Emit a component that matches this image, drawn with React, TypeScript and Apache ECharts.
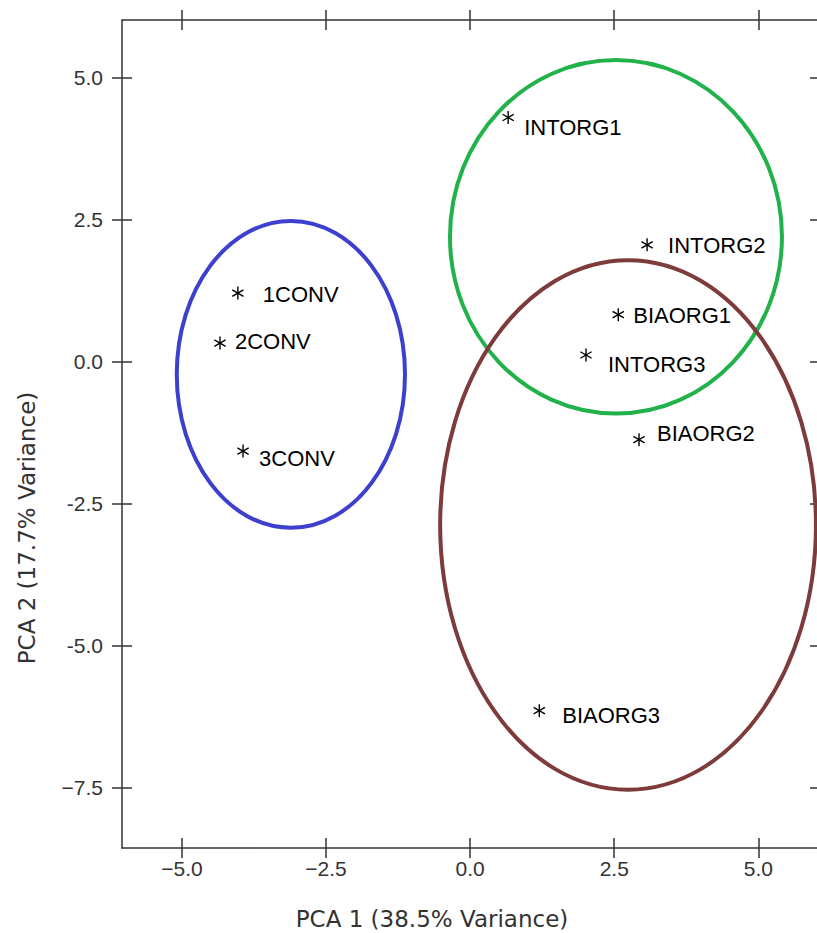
import React, { useEffect, useRef } from "react";
import * as echarts from "echarts";

// Sample scores
const sampleNames = ["1CONV", "2CONV", "3CONV", "INTORG1", "INTORG2", "BIAORG1", "INTORG3", "BIAORG2", "BIAORG3"];
const pc1Values = [-4.03, -4.34, -3.94, 0.66, 3.07, 2.57, 2.01, 2.93, 1.2];
const pc2Values = [1.21, 0.33, -1.57, 4.3, 2.06, 0.83, 0.12, -1.37, -6.14];

// Group ellipses (centre and radii in data units)
const groupNames = ["CONV", "INTORG", "BIAORG"];
const ellipseCx = [-3.11, 2.53, 2.74];
const ellipseCy = [-0.22, 2.2, -2.87];
const ellipseRx = [1.98, 2.88, 3.26];
const ellipseRy = [2.7, 3.11, 4.66];

// Tick labels
const xTickValues = [-5, -2.5, 0, 2.5, 5];
const xTickLabels = ["\u22125.0", "\u22122.5", "0.0", "2.5", "5.0"];
const yTickValues = [-7.5, -5, -2.5, 0, 2.5, 5];
const yTickLabels = ["\u22127.5", "-5.0", "-2.5", "0.0", "2.5", "5.0"];

const xTitle = "PCA 1 (38.5% Variance)";
const yTitle = "PCA 2 (17.7% Variance)";

// styling only
const ellipseColors = ["#3d40cc", "#22b24b", "#7d3b3b"];
const labelOffsets: [number, number][] = [
  [25, 1], [15, -2], [16, 7], [16, 10], [21, 1], [15, 1], [22, 9], [18, -6], [23, 5],
];

const X_MIN = -6.04;
const X_MAX = 6.07;
const Y_MIN = -8.556;
const Y_MAX = 6.016;

function fmt(values: number[], labels: string[]) {
  return (v: number) => {
    const i = values.findIndex((t) => Math.abs(t - v) < 1e-6);
    return i >= 0 ? labels[i] : "";
  };
}

export default function App() {
  const ref = useRef<HTMLDivElement>(null);
  useEffect(() => {
    if (!ref.current) return;
    const chart = echarts.init(ref.current, null, { renderer: "svg" });
    const lineStyle = { color: "#333", width: 1.5 };
    const tickFont = { fontFamily: "Liberation Sans", fontSize: 21, color: "#333" };

    const mkX = (position: string, inside: boolean, labels: boolean, line: boolean) => ({
      type: "value",
      position,
      min: X_MIN,
      max: X_MAX,
      splitLine: { show: false },
      axisLine: { show: line, onZero: false, lineStyle },
      axisTick: { show: true, inside, length: 10, lineStyle, customValues: xTickValues },
      axisLabel: {
        show: labels,
        customValues: xTickValues,
        formatter: fmt(xTickValues, xTickLabels),
        margin: 10,
        ...tickFont,
      },
    });
    const mkY = (position: string, inside: boolean, labels: boolean, line: boolean) => ({
      type: "value",
      position,
      min: Y_MIN,
      max: Y_MAX,
      splitLine: { show: false },
      axisLine: { show: line, onZero: false, lineStyle },
      axisTick: { show: true, inside, length: 10, lineStyle, customValues: yTickValues },
      axisLabel: {
        show: labels,
        customValues: yTickValues,
        formatter: fmt(yTickValues, yTickLabels),
        margin: 19,
        ...tickFont,
      },
    });

    const ellipseData = groupNames.map((g, i) => ({
      name: g,
      value: [ellipseCx[i], ellipseCy[i], ellipseRx[i], ellipseRy[i]],
    }));
    const pointData = sampleNames.map((n, i) => ({ name: n, value: [pc1Values[i], pc2Values[i]] }));

    chart.setOption({
      animation: false,
      backgroundColor: "#ffffff",
      grid: { left: 122, top: 20, width: 698, height: 828, containLabel: false, outerBoundsMode: "none" },
      xAxis: [
        mkX("bottom", false, true, true),
        mkX("bottom", true, false, false),
        mkX("top", false, false, true),
        mkX("top", true, false, false),
      ],
      yAxis: [
        mkY("left", false, true, true),
        mkY("left", true, false, false),
        mkY("right", false, false, true),
        mkY("right", true, false, false),
      ],
      series: [
        {
          type: "custom",
          name: "ellipses",
          xAxisIndex: 0,
          yAxisIndex: 0,
          clip: false,
          encode: { x: 0, y: 1 },
          data: ellipseData,
          renderItem: (params: any, api: any) => {
            const c = api.coord([api.value(0), api.value(1)]);
            const s = api.size([api.value(2), api.value(3)]);
            return {
              type: "ellipse",
              shape: { cx: c[0], cy: c[1], rx: s[0], ry: s[1] },
              style: { fill: "none", stroke: ellipseColors[params.dataIndex], lineWidth: 4 },
            };
          },
        },
        {
          type: "custom",
          name: "samples",
          xAxisIndex: 0,
          yAxisIndex: 0,
          clip: false,
          encode: { x: 0, y: 1 },
          data: pointData,
          renderItem: (params: any, api: any) => {
            const c = api.coord([api.value(0), api.value(1)]);
            const i = params.dataIndex;
            const r = 6.5;
            const a = Math.PI / 6;
            const dx = r * Math.cos(a);
            const dy = r * Math.sin(a);
            const st = { stroke: "#000", lineWidth: 1.4 };
            const off = labelOffsets[i];
            return {
              type: "group",
              children: [
                { type: "line", shape: { x1: c[0], y1: c[1] - r, x2: c[0], y2: c[1] + r }, style: st },
                { type: "line", shape: { x1: c[0] - dx, y1: c[1] - dy, x2: c[0] + dx, y2: c[1] + dy }, style: st },
                { type: "line", shape: { x1: c[0] - dx, y1: c[1] + dy, x2: c[0] + dx, y2: c[1] - dy }, style: st },
                {
                  type: "text",
                  x: c[0] + off[0],
                  y: c[1] + off[1],
                  style: {
                    text: sampleNames[i],
                    fontFamily: "Liberation Sans",
                    fontSize: 22,
                    fill: "#000",
                    align: "left",
                    verticalAlign: "middle",
                    textAlign: "left",
                    textVerticalAlign: "middle",
                  },
                },
              ],
            };
          },
        },
      ],
      graphic: [
        {
          type: "text",
          x: 432,
          y: 919,
          style: {
            text: xTitle,
            fontFamily: "DejaVu Sans",
            fontSize: 23,
            fill: "#333",
            align: "center",
            verticalAlign: "middle",
            textAlign: "center",
            textVerticalAlign: "middle",
          },
        },
        {
          type: "text",
          x: 27,
          y: 528,
          rotation: Math.PI / 2,
          style: {
            text: yTitle,
            fontFamily: "DejaVu Sans",
            fontSize: 23,
            fill: "#333",
            align: "center",
            verticalAlign: "middle",
            textAlign: "center",
            textVerticalAlign: "middle",
          },
        },
      ],
    });
    return () => chart.dispose();
  }, []);
  return (
    <div
      ref={ref}
      style={{ position: "fixed", left: 0, top: 0, width: 830, height: 933, background: "#fff" }}
    />
  );
}
